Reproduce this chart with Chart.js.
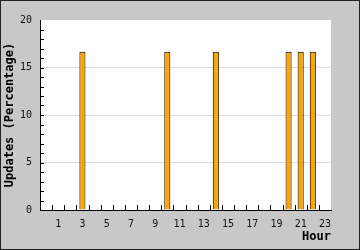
<!DOCTYPE html>
<html>
<head>
<meta charset="utf-8">
<script src="https://cdn.jsdelivr.net/npm/chart.js@4"></script>
<style>
  html, body { margin: 0; padding: 0; background: #c8c8c8; }
  #wrap { width: 360px; height: 250px; }
</style>
</head>
<body>
<div id="wrap"><canvas id="chart" width="360" height="250"></canvas></div>
<script>
// hours of the day (x categories)
const hours = ['0','1','2','3','4','5','6','7','8','9','10','11',
               '12','13','14','15','16','17','18','19','20','21','22','23'];
// share of updates per hour, percent
const updates = [0, 0, 0, 16.67, 0, 0, 0, 0, 0, 0, 16.67, 0,
                 0, 0, 16.67, 0, 0, 0, 0, 0, 16.67, 16.67, 16.67, 0];
const yTicks = [0, 5, 10, 15, 20];

const MONO = '"DejaVu Sans Mono", "Liberation Mono", monospace';

// grey frame + white plot area
const frame = {
  id: 'frame',
  beforeDraw(chart) {
    const { ctx, chartArea: a, width, height } = chart;
    ctx.save();
    ctx.fillStyle = '#c8c8c8';
    ctx.fillRect(0, 0, width, height);
    ctx.fillStyle = '#ffffff';
    ctx.fillRect(a.left, a.top, a.right - a.left, a.bottom - a.top);
    ctx.strokeStyle = '#222';
    ctx.lineWidth = 1;
    ctx.strokeRect(0.5, 0.5, width - 1, height - 1);
    ctx.restore();
  }
};

// small tick marks pointing into the plot
const innerTicks = {
  id: 'innerTicks',
  afterDatasetsDraw(chart) {
    const { ctx, chartArea: a, scales: { x, y } } = chart;
    ctx.save();
    ctx.strokeStyle = '#000';
    ctx.lineWidth = 1;
    ctx.beginPath();
    for (let i = 1; i < hours.length; i++) {
      const px = Math.round((x.getPixelForValue(i - 1) + x.getPixelForValue(i)) / 2) + 0.5;
      ctx.moveTo(px, a.bottom);
      ctx.lineTo(px, a.bottom - 5);
    }
    for (let v = 1; v < 20; v++) {
      const py = Math.round(y.getPixelForValue(v)) + 0.5;
      ctx.moveTo(a.left, py);
      ctx.lineTo(a.left + 4, py);
    }
    ctx.stroke();
    ctx.restore();
  }
};

new Chart(document.getElementById('chart'), {
  type: 'bar',
  data: {
    labels: hours,
    datasets: [{
      data: updates,
      backgroundColor: '#ffa500',
      borderColor: '#000',
      borderWidth: 1,
      barPercentage: 0.5,
      categoryPercentage: 1
    }]
  },
  options: {
    responsive: false,
    animation: false,
    layout: { padding: { top: 20, right: 29, left: 0, bottom: 0 } },
    plugins: { legend: { display: false }, tooltip: { enabled: false } },
    scales: {
      x: {
        afterFit: s => { s.height = 40; },
        grid: { display: false, drawTicks: false },
        border: { display: true, color: '#000', width: 1 },
        ticks: {
          autoSkip: false, maxRotation: 0, padding: 8,
          color: '#111', font: { family: MONO, size: 10 },
          callback: (v, i) => (i % 2 === 1 ? hours[i] : '')
        },
        title: {
          display: true, text: 'Hour', align: 'end', color: '#000',
          font: { family: MONO, size: 12, weight: 'bold' },
          padding: { top: 0, bottom: 6 }
        }
      },
      y: {
        min: 0, max: 20,
        afterFit: s => { s.width = 40; },
        afterBuildTicks: s => { s.ticks = yTicks.map(v => ({ value: v })); },
        grid: {
          drawTicks: false,
          color: c => (c.tick && c.tick.value > 0 && c.tick.value < 20 ? '#dddddd' : 'rgba(0,0,0,0)')
        },
        border: { display: true, color: '#000', width: 1 },
        ticks: { padding: 8, color: '#111', font: { family: MONO, size: 10 } },
        title: {
          display: true, text: 'Updates (Percentage)', color: '#000',
          font: { family: MONO, size: 12, weight: 'bold' },
          padding: { top: 3, bottom: 0 }
        }
      }
    }
  },
  plugins: [frame, innerTicks]
});
</script>
</body>
</html>
